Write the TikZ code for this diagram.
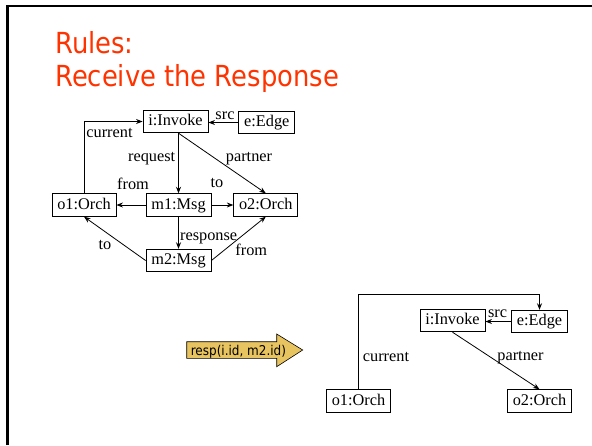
\documentclass[tikz,border=0pt]{standalone}
\usepackage{fontspec}
\setmainfont{Liberation Serif}
\newfontfamily\titlefont[FakeStretch=0.89]{DejaVu Sans}
\usetikzlibrary{arrows.meta}
\definecolor{titlered}{RGB}{255,51,0}
\definecolor{arrowgold}{RGB}{232,196,96}
\begin{document}
\begin{tikzpicture}[x=1pt,y=-1pt,
  obj/.style={draw, line width=0.9pt, fill=white,
    font=\fontsize{16.3}{18}\selectfont,
    text height=11.5pt, text depth=3.5pt, inner xsep=5.3pt, inner ysep=3.75pt},
  lbl/.style={font=\fontsize{16.3}{18}\selectfont, anchor=base, inner sep=0pt},
  link/.style={draw, line width=0.8pt, -{Stealth[length=6.5pt,width=5pt]}},
  heading/.style={anchor=base west, inner sep=0pt, text=titlered,
    font=\titlefont\fontsize{29}{32}\selectfont},
]
\useasboundingbox (0,0) rectangle (592,445);

% slide frame: top and left edges
\draw[line width=2.4pt] (7.5,445) -- (7.5,6) -- (592,6);

% heading
\node[heading] (t1) at (55,53) {Rules:};
\node[heading] (t2) at (55,86) {Receive the Response};

% ---- left-hand side of the rule ----
\node[obj] (i1) at (175.5,121.5) {i:Invoke};
\node[obj] (e1) at (266.8,122.5) {e:Edge};
\node[obj] (o11) at (84,205) {o1:Orch};
\node[obj] (m1) at (178.5,205) {m1:Msg};
\node[obj] (o21) at (265.8,205) {o2:Orch};
\node[obj] (m2) at (178.5,260.5) {m2:Msg};

\draw[link] (o11.north) |- (i1.west);
\draw[link] (e1.west) -- (e1.west -| i1.east);
\draw[link] (i1.south -| m1.north) -- (m1.north);
\draw[link] (i1.south -| m1.north) -- (o21.north);
\draw[link] (m1.west) -- (o11.east);
\draw[link] (m1.east) -- (o21.west);
\draw[link] (m1.south) -- (m2.north);
\draw[link] (m2.west) -- (o11.south);
\draw[link] (m2.east) -- (o21.south);

\node[lbl] (lc1) at (109.5,137.5) {current};
\node[lbl] (ls1) at (225,119.3) {src};
\node[lbl] (lr1) at (151.7,161.7) {request};
\node[lbl] (lp1) at (249,161.7) {partner};
\node[lbl] (lf1) at (133,189.3) {from};
\node[lbl] (lt1) at (217,187) {to};
\node[lbl] (lre) at (208.7,240.5) {response};
\node[lbl] (lt2) at (105,249.5) {to};
\node[lbl] (lf2) at (251.3,255) {from};

% ---- rule arrow ----
\draw[fill=arrowgold, line width=0.6pt]
  (186.7,341.7) -- (276.7,341.7) -- (276.7,334) -- (302.7,350)
  -- (276.7,366.7) -- (276.7,358.3) -- (186.7,358.3) -- cycle;
\node[font=\titlefont\fontsize{13.5}{15}\selectfont, inner sep=0pt, anchor=base]
  (resp) at (238.4,355) {resp(i.id, m2.id)};

% ---- right-hand side of the rule ----
\node[obj] (i2) at (452.5,320.5) {i:Invoke};
\node[obj] (e2) at (539.5,321.5) {e:Edge};
\node[obj] (o12) at (358.5,401) {o1:Orch};
\node[obj] (o22) at (539.5,401) {o2:Orch};
\coordinate (top) at (358.5,294);

\draw[link] (o12.north) -- (top) -| (e2.north);
\draw[link] (e2.west) -- (e2.west -| i2.east);
\draw[link] (i2.south) -- (o22.north);

\node[lbl] (ls2) at (497.5,317.3) {src};
\node[lbl] (lc2) at (386,361.7) {current};
\node[lbl] (lp2) at (520.5,360) {partner};
\end{tikzpicture}
\end{document}
